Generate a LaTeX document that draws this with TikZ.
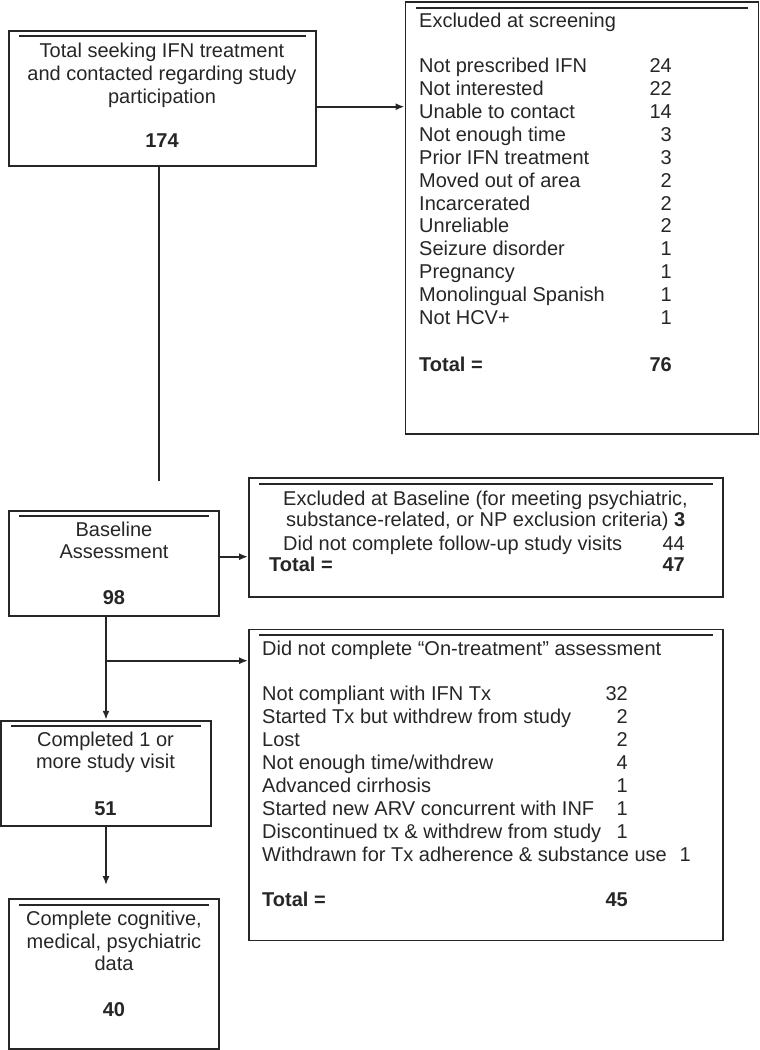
\documentclass[tikz,border=0pt]{standalone}
\usepackage{fontspec}
\setmainfont{Liberation Sans}
\usepackage{tikz}
\usetikzlibrary{arrows.meta, positioning}

\begin{document}
\begin{tikzpicture}[x=1pt, y=-1pt,
  box/.style={draw=black!85, line width=1.8pt, rectangle, inner sep=0pt},
  txt/.style={anchor=base, inner sep=0pt, text=black!85, font=\fontsize{20}{23}\selectfont},
  lft/.style={txt, anchor=base west},
  rgt/.style={txt, anchor=base east},
  arr/.style={draw=black!85, line width=1.8pt, -{Latex[length=9pt,width=7pt]}},
  ln/.style={draw=black!85, line width=1.8pt}]
  \useasboundingbox (0,0) rectangle (760,1050);

  % boxes
  \node[box, minimum width=307pt, minimum height=135pt] (total) at (162.5,98.2) {};
  \node[box, minimum width=353pt, minimum height=432pt] (screen) at (582,218) {};
  \node[box, minimum width=210pt, minimum height=105pt] (base) at (114,563.2) {};
  \node[box, minimum width=474pt, minimum height=119pt] (excl) at (486,537.8) {};
  \node[box, minimum width=474pt, minimum height=311pt] (ontr) at (486,785) {};
  \node[box, minimum width=210pt, minimum height=105pt] (done) at (106,773.2) {};
  \node[box, minimum width=210pt, minimum height=150pt] (data) at (114,974) {};

  % rules under each top edge
  \foreach \b in {total,screen,base,excl,ontr,done,data}
    \draw[ln] ([xshift=11pt,yshift=-6.5pt]\b.north west) -- ([xshift=-11pt,yshift=-6.5pt]\b.north east);

  % total seeking
  \node[txt] (total1) at (162,57) {Total seeking IFN treatment};
  \node[txt] (total2) at (162,80) {and contacted regarding study};
  \node[txt] (total3) at (162,103) {participation};
  \node[txt] (totaln) at (162,147) {\bfseries 174};

  % excluded at screening
  \node[lft] (scrT) at (419,27) {Excluded at screening};
  \node[lft] (scr1) at (419,72) {Not prescribed IFN};
  \node[lft] (scr2) at (419,95) {Not interested};
  \node[lft] (scr3) at (419,118) {Unable to contact};
  \node[lft] (scr4) at (419,141) {Not enough time};
  \node[lft] (scr5) at (419,164) {Prior IFN treatment};
  \node[lft] (scr6) at (419,187) {Moved out of area};
  \node[lft] (scr7) at (419,210) {Incarcerated};
  \node[lft] (scr8) at (419,232) {Unreliable};
  \node[lft] (scr9) at (419,255) {Seizure disorder};
  \node[lft] (scr10) at (419,278) {Pregnancy};
  \node[lft] (scr11) at (419,301) {Monolingual Spanish};
  \node[lft] (scr12) at (419,324) {Not HCV+};
  \node[lft] (scrTot) at (419,371) {\bfseries Total =};
  \node[rgt] (scrn1) at (672,72) {24};
  \node[rgt] (scrn2) at (672,95) {22};
  \node[rgt] (scrn3) at (672,118) {14};
  \node[rgt] (scrn4) at (672,141) {3};
  \node[rgt] (scrn5) at (672,164) {3};
  \node[rgt] (scrn6) at (672,187) {2};
  \node[rgt] (scrn7) at (672,210) {2};
  \node[rgt] (scrn8) at (672,232) {2};
  \node[rgt] (scrn9) at (672,255) {1};
  \node[rgt] (scrn10) at (672,278) {1};
  \node[rgt] (scrn11) at (672,301) {1};
  \node[rgt] (scrn12) at (672,324) {1};
  \node[rgt] (scrnTot) at (672,371) {\bfseries 76};

  % baseline
  \node[txt] (base1) at (114,536.7) {Baseline};
  \node[txt] (base2) at (114,558) {Assessment};
  \node[txt] (basen) at (114,604) {\bfseries 98};

  % excluded at baseline
  \node[lft] (exc1) at (283,505) {Excluded at Baseline (for meeting psychiatric,};
  \node[lft] (exc2) at (286,526.7) {substance-related, or NP exclusion criteria) \bfseries 3};
  \node[lft] (exc3) at (283,550) {Did not complete follow-up study visits};
  \node[lft] (excTot) at (269,571.7) {\bfseries Total =};
  \node[rgt] (excn3) at (685,550) {44};
  \node[rgt] (excnTot) at (685,571.7) {\bfseries 47};

  % on-treatment
  \node[lft] (ontT) at (262,655) {Did not complete “On-treatment” assessment};
  \node[lft] (ont1) at (262,700) {Not compliant with IFN Tx};
  \node[lft] (ont2) at (262,723) {Started Tx but withdrew from study};
  \node[lft] (ont3) at (262,746) {Lost};
  \node[lft] (ont4) at (262,769) {Not enough time/withdrew};
  \node[lft] (ont5) at (262,792) {Advanced cirrhosis};
  \node[lft] (ont6) at (262,815) {Started new ARV concurrent with INF};
  \node[lft] (ont7) at (262,838) {Discontinued tx \& withdrew from study};
  \node[lft] (ont8) at (262,861) {Withdrawn for Tx adherence \& substance use};
  \node[lft] (ontTot) at (262,906.7) {\bfseries Total =};
  \node[rgt] (ontn1) at (628,700) {32};
  \node[rgt] (ontn2) at (628,723) {2};
  \node[rgt] (ontn3) at (628,746) {2};
  \node[rgt] (ontn4) at (628,769) {4};
  \node[rgt] (ontn5) at (628,792) {1};
  \node[rgt] (ontn6) at (628,815) {1};
  \node[rgt] (ontn7) at (628,838) {1};
  \node[rgt] (ontn8) at (691,861) {1};
  \node[rgt] (ontnTot) at (628,906.7) {\bfseries 45};

  % completed visit
  \node[txt] (done1) at (105.5,746.7) {Completed 1 or};
  \node[txt] (done2) at (105.5,768) {more study visit};
  \node[txt] (donen) at (105.5,815) {\bfseries 51};

  % complete data
  \node[txt] (data1) at (114,925) {Complete cognitive,};
  \node[txt] (data2) at (114,948) {medical, psychiatric};
  \node[txt] (data3) at (114,970) {data};
  \node[txt] (datan) at (114,1016.7) {\bfseries 40};

  % connectors
  \coordinate (tend) at (159,481);
  \coordinate (split) at (106,660.7);
  \draw[ln] (tend |- total.south) -- (tend);
  \draw[arr] ([yshift=-8.5pt]total.east) -- ([yshift=-8.5pt]total.east -| screen.west);
  \draw[arr] ([yshift=6.5pt]base.east) -- ([yshift=6.5pt]base.east -| excl.west);
  \draw[arr] (split |- base.south) -- (split |- done.north);
  \draw[arr] (split) -- (split -| ontr.west);
  \draw[arr, shorten >=13pt] (done.south) -- (done.south |- data.north);
\end{tikzpicture}
\end{document}
